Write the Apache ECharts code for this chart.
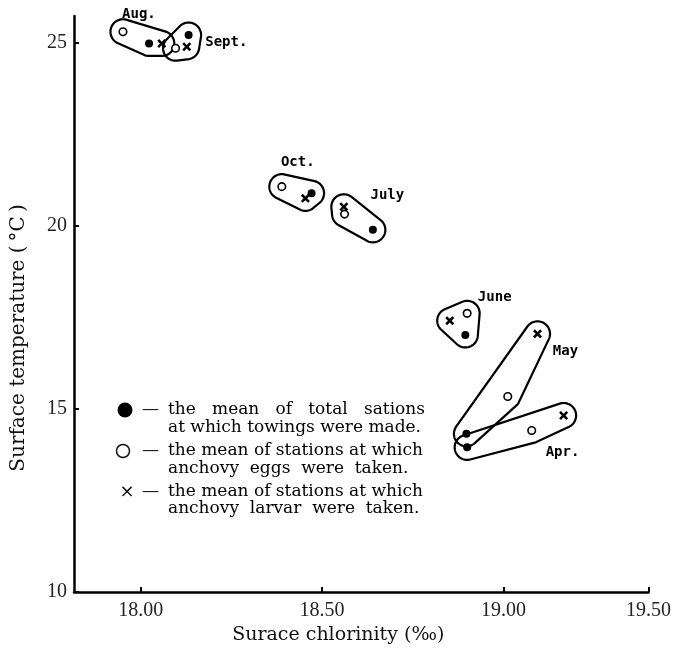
<!DOCTYPE html>
<html>
<head>
<meta charset="utf-8">
<script src="https://cdn.jsdelivr.net/npm/echarts@6/dist/echarts.min.js"></script>
<style>html,body{margin:0;padding:0;background:#fff;}#c{width:674px;height:658px;}</style>
</head>
<body>
<div id="c"></div>
<script>
// ---- data ----
const months   = ['Aug.', 'Sept.', 'Oct.', 'July', 'June', 'May', 'Apr.'];
// mean of total stations at which towings were made (filled dots)
const totalX   = [18.023, 18.132, 18.471, 18.640, 18.895, 18.898, 18.900];
const totalY   = [24.98, 25.21, 20.89, 19.89, 17.02, 14.32, 13.95];
// mean of stations at which anchovy eggs were taken (open circles)
const eggsX    = [17.951, 18.096, 18.389, 18.562, 18.900, 19.012, 19.078];
const eggsY    = [25.30, 24.85, 21.07, 20.32, 17.61, 15.34, 14.41];
// mean of stations at which anchovy larvae were taken (crosses)
const larvaeX  = [18.058, 18.127, 18.454, 18.560, 18.852, 19.094, 19.166];
const larvaeY  = [24.98, 24.89, 20.75, 20.52, 17.41, 17.05, 14.82];
// month label anchor (data coordinates)
const labelX   = [17.995, 18.236, 18.433, 18.680, 18.976, 19.171, 19.163];
const labelY   = [25.78, 25.02, 21.74, 20.82, 18.06, 16.56, 13.80];
// axis ticks
const xTickValues = [18, 18.5, 19, 19.4];
const xTickLabels = ['18.00', '18.50', '19.00', '19.50'];
const yTickValues = [10, 15, 20, 25];

const chart = echarts.init(document.getElementById('c'), null, {renderer: 'canvas'});
const zip = (a, b) => a.map((v, i) => [v, b[i]]);
const serif = '"Liberation Serif", "DejaVu Serif", serif';
const legendFont = '"DejaVu Serif", serif';
const crossPath = 'path://M2,0 L5,3 L8,0 L10,2 L7,5 L10,8 L8,10 L5,7 L2,10 L0,8 L3,5 L0,2 Z';

function loopRender(params, api) {
  const pts = [
    api.coord([api.value(0), api.value(1)]),
    api.coord([api.value(2), api.value(3)]),
    api.coord([api.value(4), api.value(5)])
  ];
  const r = 12.5;
  const poly = [];
  const n = 90;
  for (let k = 0; k < n; k++) {
    const t = k / n * 2 * Math.PI;
    const ux = Math.cos(t), uy = Math.sin(t);
    let best = pts[0], bd = -Infinity;
    for (const p of pts) {
      const d = p[0] * ux + p[1] * uy;
      if (d > bd) { bd = d; best = p; }
    }
    poly.push([best[0] + r * ux, best[1] + r * uy]);
  }
  return {
    type: 'polygon',
    shape: {points: poly},
    style: {fill: 'none', stroke: '#000', lineWidth: 2.2}
  };
}

const option = {
  backgroundColor: '#fff',
  animation: false,
  grid: {left: 74, right: 22, top: 16, bottom: 66, containLabel: false},
  xAxis: {
    type: 'value',
    min: 17.816,
    max: 19.4,
    splitLine: {show: false},
    axisLine: {show: true, onZero: false, lineStyle: {color: '#000', width: 2.5}},
    axisTick: {show: true, inside: true, length: 5, lineStyle: {color: '#000', width: 2}, customValues: xTickValues},
    axisLabel: {
      customValues: xTickValues,
      margin: 9,
      color: '#222',
      fontFamily: serif,
      fontSize: 20,
      formatter: v => {
        const i = xTickValues.findIndex(t => Math.abs(t - v) < 1e-6);
        return i >= 0 ? xTickLabels[i] : '';
      }
    },
    name: 'Surace chlorinity (‰)',
    nameLocation: 'middle',
    nameGap: 33,
    nameTextStyle: {fontFamily: legendFont, fontSize: 19, color: '#111', padding: [0, 46, 0, 0]}
  },
  yAxis: {
    type: 'value',
    min: 10,
    max: 25.73,
    interval: 5,
    splitLine: {show: false},
    axisLine: {show: true, onZero: false, lineStyle: {color: '#000', width: 2.5}},
    axisTick: {show: true, inside: true, length: 5, lineStyle: {color: '#000', width: 2}, customValues: yTickValues},
    axisLabel: {customValues: yTickValues, margin: 7, color: '#222', fontFamily: serif, fontSize: 20},
    name: 'Surface temperature (\u2009°C\u2009)',
    nameLocation: 'middle',
    nameGap: 45,
    nameTextStyle: {fontFamily: legendFont, fontSize: 20, color: '#111', padding: [0, 68, 0, 0]}
  },
  series: [
    {
      type: 'custom',
      name: 'loops',
      clip: false,
      silent: true,
      renderItem: loopRender,
      encode: {x: [0, 2, 4], y: [1, 3, 5]},
      data: months.map((m, i) => [totalX[i], totalY[i], eggsX[i], eggsY[i], larvaeX[i], larvaeY[i]])
    },
    {
      type: 'scatter',
      name: 'total stations',
      clip: false,
      symbol: 'circle',
      symbolSize: 8,
      itemStyle: {color: '#000', opacity: 1},
      data: zip(totalX, totalY)
    },
    {
      type: 'scatter',
      name: 'anchovy eggs',
      clip: false,
      symbol: 'circle',
      symbolSize: 7.5,
      itemStyle: {color: '#fff', borderColor: '#000', borderWidth: 1.6, opacity: 1},
      data: zip(eggsX, eggsY)
    },
    {
      type: 'scatter',
      name: 'anchovy larvae',
      clip: false,
      symbol: crossPath,
      symbolSize: 9,
      itemStyle: {color: '#000', opacity: 1},
      data: zip(larvaeX, larvaeY)
    },
    {
      type: 'scatter',
      name: 'months',
      clip: false,
      silent: true,
      symbolSize: 1,
      itemStyle: {color: 'rgba(0,0,0,0)', opacity: 1},
      label: {
        show: true,
        position: 'inside',
        formatter: p => months[p.dataIndex],
        fontFamily: '"DejaVu Sans Mono", monospace',
        fontWeight: 'bold',
        fontSize: 14,
        color: '#000',
        opacity: 1
      },
      data: zip(labelX, labelY)
    }
  ],
  graphic: [
    {type: 'circle', shape: {cx: 125, cy: 410, r: 7.5}, style: {fill: '#000'}},
    {type: 'circle', shape: {cx: 123, cy: 451, r: 6.5}, style: {fill: '#fff', stroke: '#111', lineWidth: 1.5}},
    {type: 'text', x: 127, y: 492, style: {text: '×', font: '18px "DejaVu Sans", sans-serif', fill: '#111', align: 'center', verticalAlign: 'middle'}},
    {type: 'text', x: 142, y: 410, style: {text: '—', font: '17px ' + legendFont, fill: '#111', verticalAlign: 'middle'}},
    {type: 'text', x: 142, y: 451, style: {text: '—', font: '17px ' + legendFont, fill: '#111', verticalAlign: 'middle'}},
    {type: 'text', x: 142, y: 492, style: {text: '—', font: '17px ' + legendFont, fill: '#111', verticalAlign: 'middle'}},
    {type: 'text', x: 168, y: 401, style: {text: 'the   mean   of   total   sations\nat which towings were made.', font: '17px ' + legendFont, lineHeight: 18, fill: '#000', verticalAlign: 'top'}},
    {type: 'text', x: 168, y: 442, style: {text: 'the mean of stations at which\nanchovy  eggs  were  taken.', font: '17px ' + legendFont, lineHeight: 18, fill: '#000', verticalAlign: 'top'}},
    {type: 'text', x: 168, y: 483, style: {text: 'the mean of stations at which\nanchovy  larvar  were  taken.', font: '17px ' + legendFont, lineHeight: 17, fill: '#000', verticalAlign: 'top'}}
  ]
};
chart.setOption(option);
</script>
</body>
</html>
